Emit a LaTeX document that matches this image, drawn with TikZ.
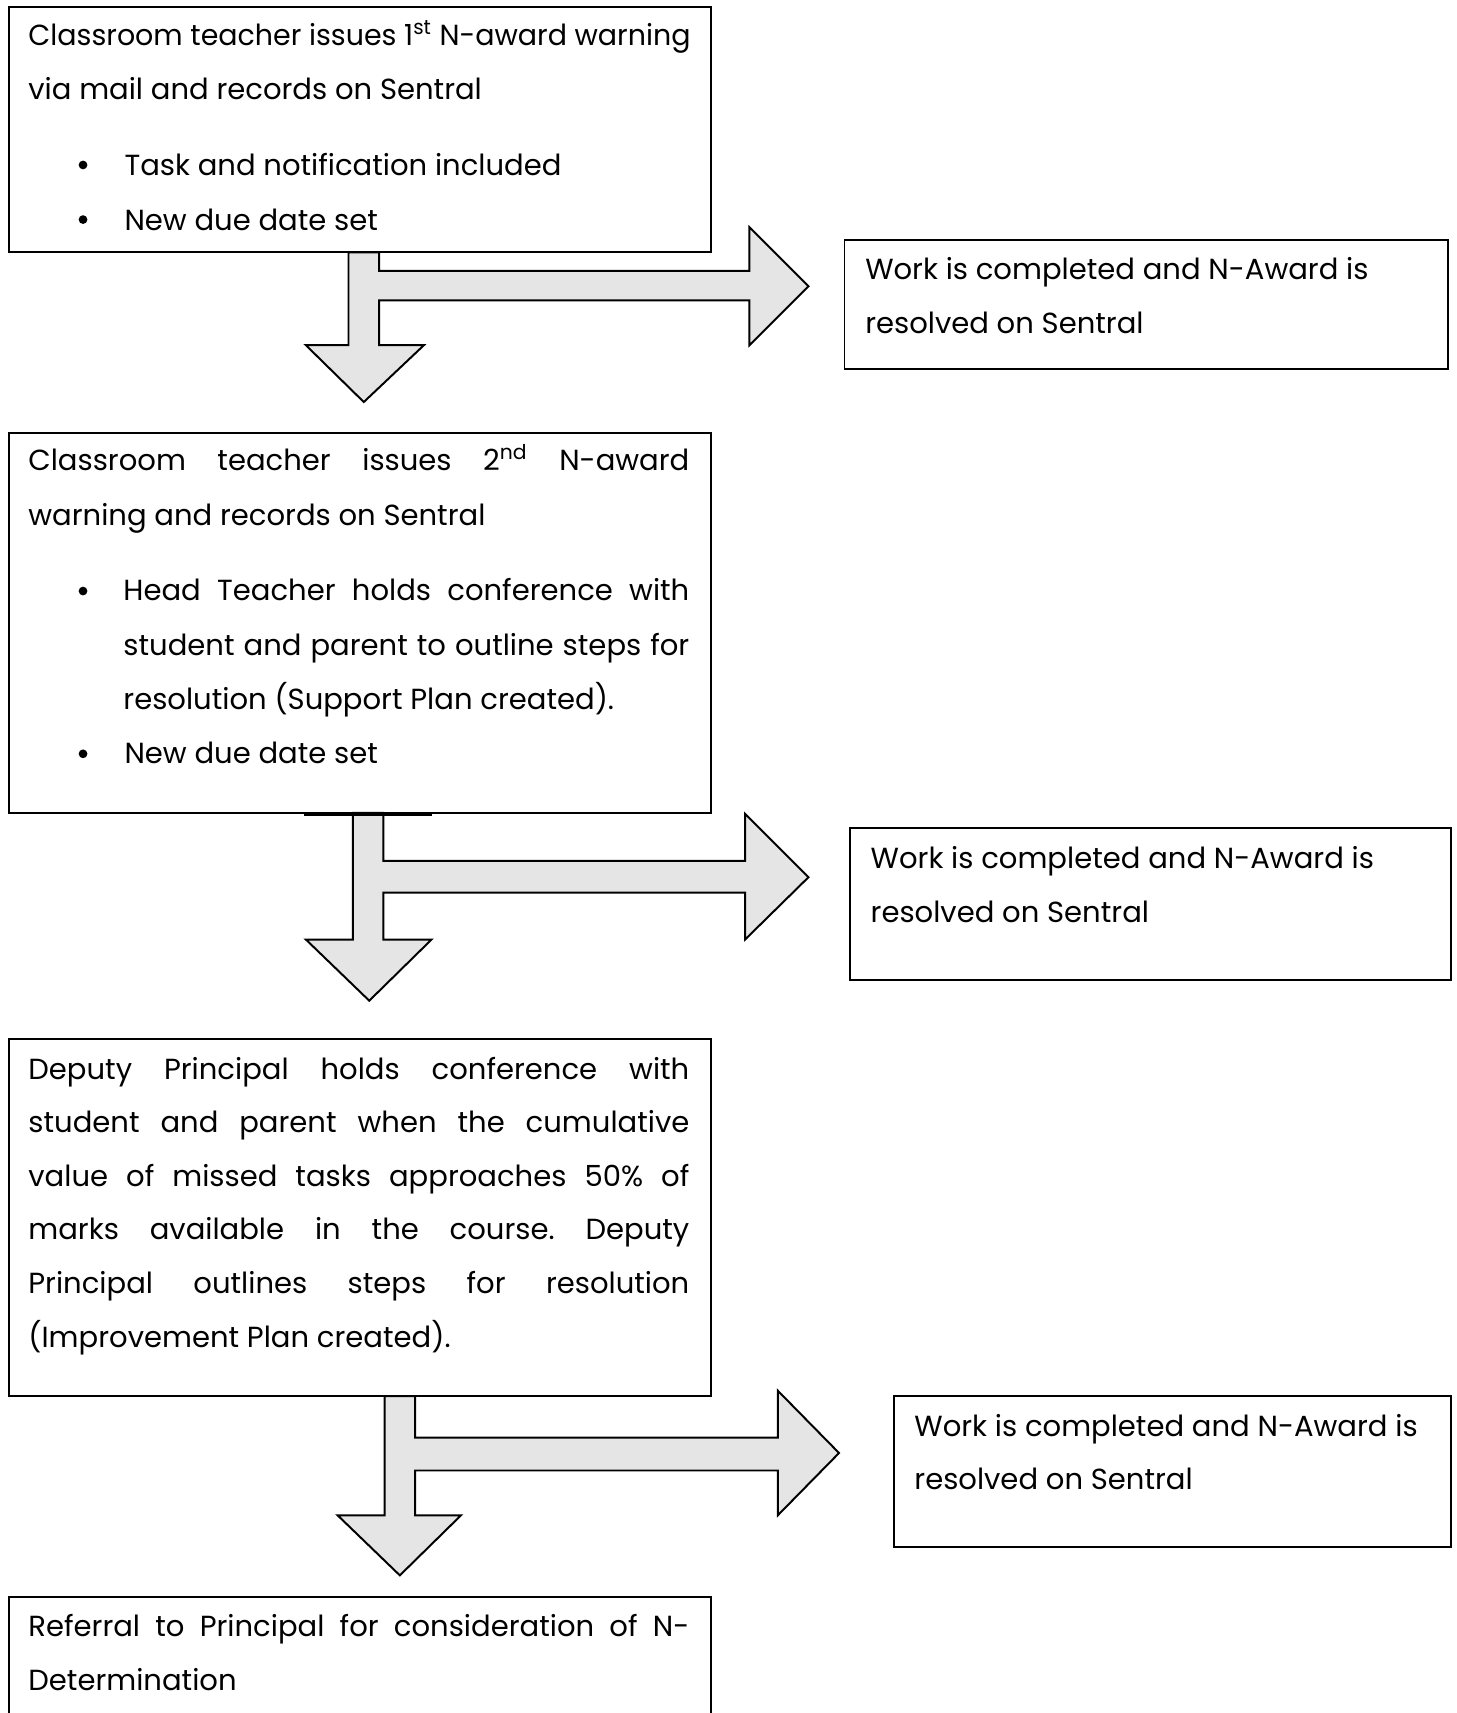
\documentclass[tikz,border=0pt]{standalone}
\usepackage{fontspec}
\usepackage{graphicx}
\setmainfont{Poppins}
\frenchspacing
\begin{document}
\begin{tikzpicture}[x=0.5pt,y=-0.5pt,
  boxst/.style={draw=black, line width=0.9pt, inner sep=0pt, outer sep=0pt, anchor=north west},
  blockarrow/.style={draw=black, line width=0.9pt, fill=gray!20, line join=miter},
  txt/.style={anchor=base west, inner sep=0pt, outer sep=0pt, font=\fontsize{13.3}{16}\selectfont\frenchspacing},
  bul/.style={circle, fill=black, inner sep=0pt, minimum size=4pt}]
\useasboundingbox (0,0) rectangle (1333,1568);
\clip (0,0) rectangle (1333,1568);
\newcommand{\jl}[1]{\makebox[302.5pt][s]{#1}}
\newcommand{\jb}[1]{\makebox[259pt][s]{#1}}

% block arrows
\draw[blockarrow] (319,231) -- (347,231) -- (347,248) -- (686,248) -- (686,208) -- (740,262) -- (686,316) -- (686,275) -- (347,275) -- (347,316) -- (388,316) -- (333,368) -- (280,316) -- (319,316) -- cycle;
\draw[blockarrow] (323,744) -- (351,744) -- (351,788) -- (682,788) -- (682,745) -- (740,803) -- (682,860) -- (682,817) -- (351,817) -- (351,860) -- (395,860) -- (338,916) -- (280,860) -- (323,860) -- cycle;
\draw[blockarrow] (352,1278) -- (380,1278) -- (380,1316) -- (712,1316) -- (712,1273) -- (768,1330) -- (712,1387) -- (712,1346) -- (380,1346) -- (380,1387) -- (422,1387) -- (366,1442) -- (309,1387) -- (352,1387) -- cycle;

% boxes
\node[boxst, minimum width=321.5pt, minimum height=112.5pt] (b1) at (8,6) {};
\node[boxst, minimum width=276pt, minimum height=59pt] (r1) at (773,220) {};
\node[boxst, minimum width=321.5pt, minimum height=174pt] (b2) at (8,396) {};
\node[boxst, minimum width=275pt, minimum height=69.5pt] (r2) at (778,758) {};
\node[boxst, minimum width=321.5pt, minimum height=163.5pt] (b3) at (8,951) {};
\node[boxst, minimum width=255pt, minimum height=69pt] (r3) at (818,1278) {};
\node[boxst, minimum width=321.5pt, minimum height=100pt] (b4) at (8,1462) {};

\draw[line width=1.5pt] (278,745.5) coordinate (k1) -- (395,745.5) coordinate (k2);

% box 1 text
\node[txt] (t1a) at (26,42) {\scalebox{0.98}[1]{Classroom teacher issues 1\textsuperscript{st} N-award warning}};
\node[txt] (t1b) at (26,91) {via mail and records on Sentral};
\node[bul] (u1a) at (76,151) {};
\node[txt] (t1c) at (114,161) {Task and notification included};
\node[bul] (u1b) at (76,201) {};
\node[txt] (t1d) at (114,211) {New due date set};

% right 1
\node[txt] (s1a) at (792,256) {Work is completed and N-Award is};
\node[txt] (s1b) at (792,305) {resolved on Sentral};

% box 2 text
\node[txt] (t2a) at (26,431) {\jl{Classroom teacher issues 2\textsuperscript{nd} N-award}};
\node[txt] (t2b) at (26,481) {warning and records on Sentral};
\node[bul] (u2a) at (76,541) {};
\node[txt] (t2c) at (113,550) {\jb{Head Teacher holds conference with}};
\node[txt] (t2d) at (113,600) {\jb{student and parent to outline steps for}};
\node[txt] (t2e) at (113,649) {resolution (Support Plan created).};
\node[bul] (u2b) at (76,690) {};
\node[txt] (t2f) at (114,699) {New due date set};

% right 2
\node[txt] (s2a) at (797,795) {Work is completed and N-Award is};
\node[txt] (s2b) at (797,844) {resolved on Sentral};

% box 3 text
\node[txt] (t3a) at (26,988) {\jl{Deputy Principal holds conference with}};
\node[txt] (t3b) at (26,1037) {\jl{student and parent when the cumulative}};
\node[txt] (t3c) at (26,1086) {\jl{value of missed tasks approaches 50\% of}};
\node[txt] (t3d) at (26,1135) {\jl{marks available in the course. Deputy}};
\node[txt] (t3e) at (26,1184) {\jl{Principal outlines steps for resolution}};
\node[txt] (t3f) at (26,1233) {(Improvement Plan created).};

% right 3
\node[txt] (s3a) at (837,1315) {Work is completed and N-Award is};
\node[txt] (s3b) at (837,1363) {resolved on Sentral};

% box 4 text
\node[txt] (t4a) at (26,1498) {\jl{Referral to Principal for consideration of N-}};
\node[txt] (t4b) at (26,1547) {Determination};
\end{tikzpicture}
\end{document}
